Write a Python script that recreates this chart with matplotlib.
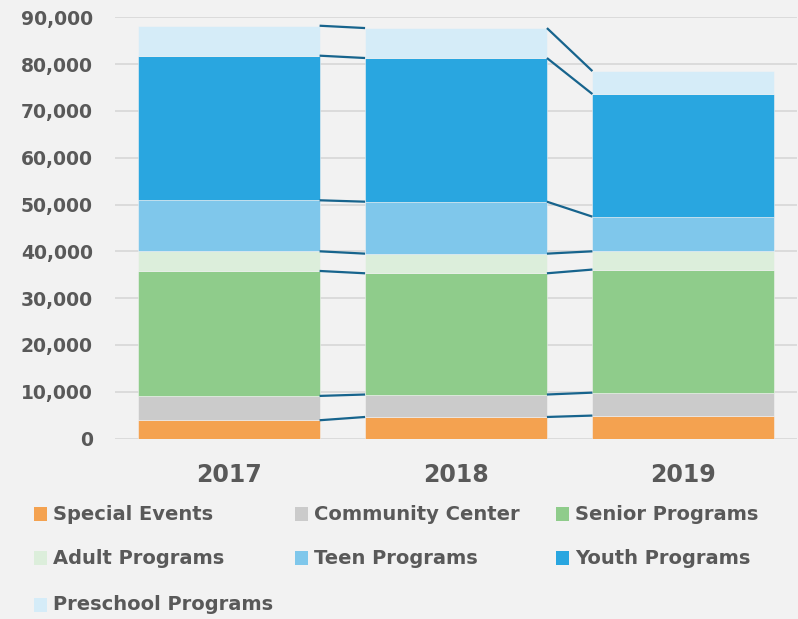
import matplotlib
matplotlib.use("Agg")
import matplotlib.pyplot as plt
from matplotlib.patches import Rectangle
from matplotlib.ticker import FuncFormatter
import numpy as np

years = ["2017", "2018", "2019"]
series_names = ["Special Events", "Community Center", "Senior Programs",
                "Adult Programs", "Teen Programs", "Youth Programs",
                "Preschool Programs"]
special_events = [3900, 4600, 4900]
community_center = [5200, 4800, 4900]
senior_programs = [26700, 25900, 26300]
adult_programs = [4200, 4200, 3900]
teen_programs = [10900, 11100, 7400]
youth_programs = [30900, 30700, 26200]
preschool_programs = [6400, 6400, 4900]
yticks = [0, 10000, 20000, 30000, 40000, 50000, 60000, 70000, 80000, 90000]

series = [special_events, community_center, senior_programs, adult_programs,
          teen_programs, youth_programs, preschool_programs]
colors = ["#F4A250", "#CBCBCB", "#8FCC8B", "#DCEEDB", "#7FC7EB", "#29A6E0", "#D5ECF8"]

BG = "#F2F2F2"
TXT = "#595959"
LINE = "#17648D"

plt.rcParams['font.family'] = ['DejaVu Sans']
fig = plt.figure(figsize=(7.98, 6.19), dpi=100, facecolor=BG)
ax = fig.add_axes([115/798, 1-438.5/619, 682/798, 421.2/619])
ax.set_facecolor(BG)

x = np.arange(len(years))
width = 0.8
bottom = np.zeros(len(years))
tops = []
for vals, col in zip(series, colors):
    v = np.array(vals, dtype=float)
    ax.bar(x, v, width, bottom=bottom, color=col, edgecolor=BG, linewidth=0.4, zorder=3)
    bottom = bottom + v
    tops.append(bottom.copy())

for t in tops:
    for i in range(len(years) - 1):
        ax.plot([x[i] + width/2, x[i+1] - width/2], [t[i], t[i+1]],
                color=LINE, lw=1.6, zorder=4, solid_capstyle='butt')

ax.set_xlim(-0.5, 2.5)
ax.set_ylim(0, 90000)
ax.set_yticks(yticks)
ax.yaxis.set_major_formatter(FuncFormatter(lambda v, p: f"{int(v):,}"))
ax.grid(axis='y', color="#D9D9D9", lw=1.3, zorder=0)
ax.set_axisbelow(True)
for s in ax.spines.values():
    s.set_visible(False)
ax.tick_params(axis='y', length=0, pad=16, labelsize=13.5, labelcolor=TXT)
ax.tick_params(axis='x', length=0, pad=18, labelsize=17, labelcolor=TXT)
ax.set_xticks(x)
ax.set_xticklabels(years, fontweight='bold')
for lab in ax.get_yticklabels():
    lab.set_fontweight('bold')

# legend
col_x = [34, 295, 556]
row_y = [514, 558, 605]
W, H = 798, 619
for i, (name, col) in enumerate(zip(series_names, colors)):
    c, r = i % 3, i // 3
    px, py = col_x[c], row_y[r]
    fig.patches.append(Rectangle((px / W, 1 - (py + 7) / H), 13 / W, 14 / H,
                                 transform=fig.transFigure, facecolor=col,
                                 edgecolor='none'))
    fig.text((px + 19) / W, 1 - py / H, name, fontsize=14, fontweight='bold',
             color=TXT, va='center', ha='left')

fig.savefig("out.png", dpi=100, facecolor=BG)
